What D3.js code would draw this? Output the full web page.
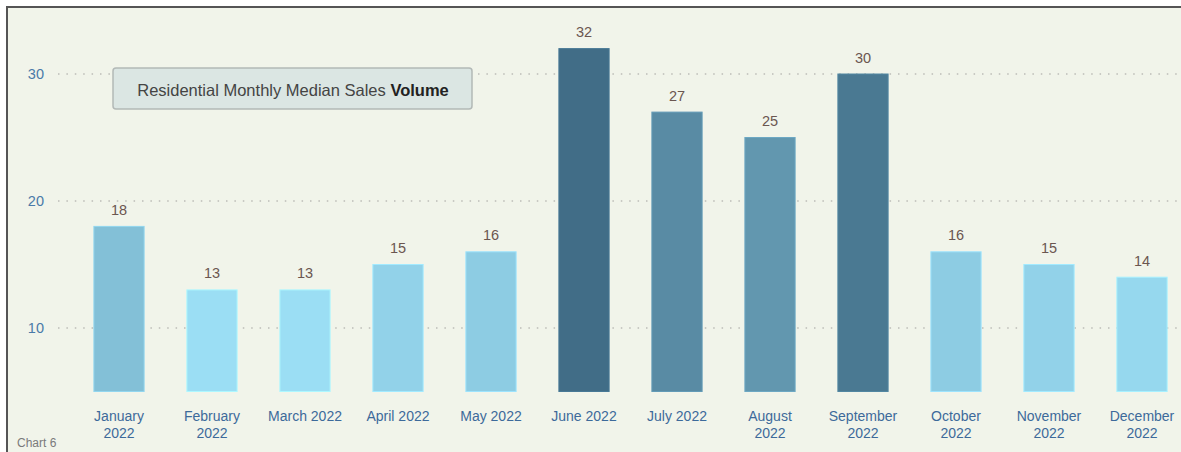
<!DOCTYPE html>
<html>
<head>
<meta charset="utf-8">
<script src="https://cdn.jsdelivr.net/npm/d3@7"></script>
<style>
  html, body { margin: 0; padding: 0; background: #ffffff; }
  svg { display: block; font-family: "Liberation Sans", Arial, sans-serif; }
</style>
</head>
<body>
<svg id="chart" width="1181" height="452"></svg>
<script>
// Monthly median sales volume, residential, 2022
const months = [
  "January 2022", "February 2022", "March 2022", "April 2022",
  "May 2022", "June 2022", "July 2022", "August 2022",
  "September 2022", "October 2022", "November 2022", "December 2022"
];
// how each month label wraps under its bar
const monthLines = [
  ["January", "2022"], ["February", "2022"], ["March 2022"], ["April 2022"],
  ["May 2022"], ["June 2022"], ["July 2022"], ["August", "2022"],
  ["September", "2022"], ["October", "2022"], ["November", "2022"], ["December", "2022"]
];
const volumes = [18, 13, 13, 15, 16, 32, 27, 25, 30, 16, 15, 14];
const yTicks = [10, 20, 30];

const svg = d3.select("#chart");
const W = 1181, H = 452;

// panel with frame on the top and left edges
svg.append("rect").attr("x", 7).attr("y", 7).attr("width", W - 7).attr("height", H - 7)
  .attr("fill", "#f1f4ea");
svg.append("path").attr("d", `M7,${H} V7 H${W}`)
  .attr("fill", "none").attr("stroke", "#555").attr("stroke-width", 2);

const x = d3.scaleBand().domain(months).range([72.5, 1188.5])
  .paddingInner(0.46).paddingOuter(0.23);
const y = d3.scaleLinear().domain([5, 35]).range([391.5, 10.5]);
const color = d3.scaleLinear().domain([13, 32]).range(["#9bdef4", "#416d87"]);

// dotted gridlines
const grid = svg.append("g");
grid.selectAll("line").data(yTicks).join("line")
  .attr("x1", 58).attr("x2", W)
  .attr("y1", d => y(d)).attr("y2", d => y(d))
  .attr("stroke", "#c9cac4").attr("stroke-width", 2)
  .attr("stroke-dasharray", "1.5 6.9");

// y axis labels
const yAxis = svg.append("g").attr("transform", "translate(44,0)")
  .call(d3.axisLeft(y).tickValues(yTicks).tickSize(0).tickPadding(0));
yAxis.select(".domain").remove();
yAxis.selectAll("text").attr("fill", "#4a7aa8").attr("font-size", 14.5)
  .attr("font-family", "Liberation Sans, Arial, sans-serif");

// legend box
const lg = svg.append("g");
lg.append("rect").attr("x", 113).attr("y", 68).attr("width", 359).attr("height", 41)
  .attr("rx", 3).attr("fill", "#dbe6e3").attr("stroke", "#b3b9b7").attr("stroke-width", 1.5);
const lt = lg.append("text").attr("x", 293).attr("y", 96).attr("text-anchor", "middle")
  .attr("font-size", 16.5).attr("fill", "#444");
lt.append("tspan").text("Residential Monthly Median Sales ");
lt.append("tspan").attr("font-weight", "bold").attr("fill", "#222").text("Volume");

// bars
svg.append("g").selectAll("rect").data(volumes).join("rect")
  .attr("x", (d, i) => x(months[i]))
  .attr("width", x.bandwidth())
  .attr("y", d => y(d))
  .attr("height", d => y(5) - y(d))
  .attr("fill", d => color(d))
  .attr("stroke", d => d3.color(color(d)).brighter(0.3))
  .attr("stroke-width", 1);

// value labels
svg.append("g").selectAll("text").data(volumes).join("text")
  .attr("x", (d, i) => x(months[i]) + x.bandwidth() / 2)
  .attr("y", d => y(d) - 11.5)
  .attr("text-anchor", "middle").attr("font-size", 14.5).attr("fill", "#6b5650")
  .text(d => d);

// month labels
const xl = svg.append("g").selectAll("text").data(monthLines).join("text")
  .attr("x", (d, i) => x(months[i]) + x.bandwidth() / 2)
  .attr("y", 421)
  .attr("text-anchor", "middle").attr("font-size", 14).attr("fill", "#3d6a9a");
xl.selectAll("tspan").data(d => d).join("tspan")
  .attr("x", function () { return this.parentNode.getAttribute("x"); })
  .attr("dy", (d, j) => j === 0 ? 0 : 17)
  .text(d => d);

// chart caption
svg.append("text").attr("x", 17).attr("y", 447).attr("font-size", 12)
  .attr("fill", "#7a7a7a").text("Chart 6");
</script>
</body>
</html>
